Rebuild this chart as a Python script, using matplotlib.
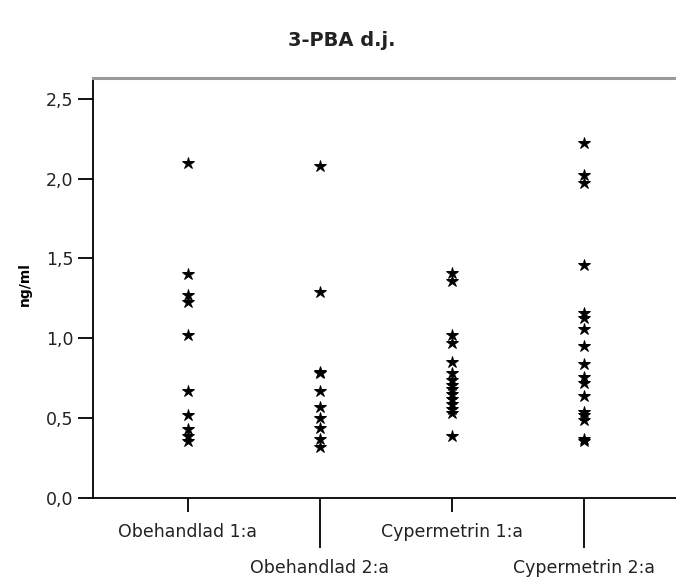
import matplotlib
matplotlib.use("Agg")
import matplotlib.pyplot as plt
from matplotlib.ticker import FuncFormatter

categories = ["Obehandlad 1:a", "Obehandlad 2:a", "Cypermetrin 1:a", "Cypermetrin 2:a"]
obehandlad_1 = [2.10, 1.40, 1.27, 1.23, 1.02, 0.67, 0.52, 0.43, 0.39, 0.36]
obehandlad_2 = [2.08, 1.29, 0.79, 0.78, 0.67, 0.57, 0.50, 0.44, 0.37, 0.32]
cypermetrin_1 = [1.41, 1.36, 1.02, 0.97, 0.85, 0.78, 0.74, 0.71, 0.68, 0.65,
                 0.62, 0.59, 0.56, 0.53, 0.39]
cypermetrin_2 = [2.22, 2.02, 1.97, 1.46, 1.16, 1.13, 1.06, 0.95, 0.84, 0.76,
                 0.72, 0.64, 0.54, 0.52, 0.49, 0.37, 0.36]
series = [obehandlad_1, obehandlad_2, cypermetrin_1, cypermetrin_2]
yticks = [0.0, 0.5, 1.0, 1.5, 2.0, 2.5]

plt.rcParams['font.family'] = ['DejaVu Sans']
fig = plt.figure(figsize=(6.76, 5.79), dpi=100)
ax = fig.add_axes([93/676, 1-498/579, 1-93/676, (498-78)/579])

for i, vals in enumerate(series):
    ax.plot([i + 1] * len(vals), vals, linestyle='none', marker='*',
            markersize=9, color='black', markeredgewidth=0.7, clip_on=False)

ax.set_xlim(0.28, 4.70)
ax.set_ylim(0, 2.63)
ax.set_yticks(yticks)
ax.yaxis.set_major_formatter(FuncFormatter(lambda v, p: f"{v:.1f}".replace('.', ',')))
ax.tick_params(axis='y', length=11, width=1.3, labelsize=12.5, pad=3, color='black',
               labelcolor='#222222')

ax.set_xticks([1, 3])
ax.set_xticklabels([categories[0], categories[2]])
ax.set_xticks([2, 4], minor=True)
ax.set_xticklabels([categories[1], categories[3]], minor=True)
ax.tick_params(axis='x', which='major', length=10, width=1.3, labelsize=12.5, pad=8,
               labelcolor='#222222')
ax.tick_params(axis='x', which='minor', length=36, width=1.3, labelsize=12.5, pad=8,
               labelcolor='#222222')

for s in ['left', 'bottom']:
    ax.spines[s].set_linewidth(1.3)
    ax.spines[s].set_color('black')
ax.spines['top'].set_color('#9a9a9a')
ax.spines['top'].set_linewidth(2.2)
ax.spines['right'].set_visible(False)

ax.set_ylabel("ng/ml", fontsize=10, fontweight='bold')
ax.yaxis.set_label_coords(-0.105, 0.51)
fig.text(342/676, 1-40/579, "3-PBA d.j.", ha='center', va='center',
         fontsize=14, fontweight='bold', color='#222222')

fig.savefig("out.png", dpi=100, facecolor='white')
